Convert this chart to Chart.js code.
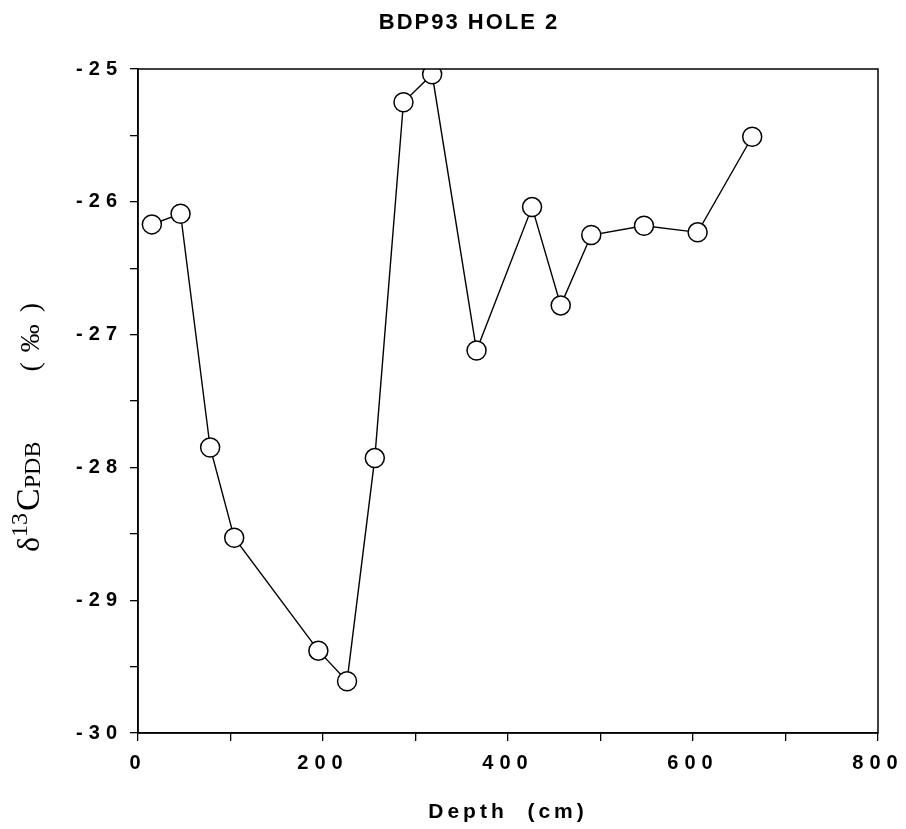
<!DOCTYPE html>
<html>
<head>
<meta charset="utf-8">
<script src="https://cdn.jsdelivr.net/npm/chart.js@4"></script>
<style>
  html, body { margin: 0; padding: 0; background: #fff; }
  #wrap { width: 906px; height: 829px; }
</style>
</head>
<body>
<div id="wrap"><canvas id="c" width="906" height="829"></canvas></div>
<script>
const chartTitle = 'BDP93 HOLE 2';
const xAxisTitle = 'Depth  (cm)';
const depthCm = [15, 46, 78, 104, 195, 226, 256, 287, 318, 366, 426, 457, 490, 547, 605, 664];
const d13C = [-26.17, -26.09, -27.85, -28.53, -29.38, -29.61, -27.93, -25.25, -25.04, -27.12, -26.04, -26.78, -26.25, -26.18, -26.23, -25.51];
const xLabelTicks = [0, 200, 400, 600, 800];
const yLabelTicks = [-30, -29, -28, -27, -26, -25];

const points = depthCm.map((d, i) => ({ x: d, y: d13C[i] }));

const boldFont = 'Liberation Sans, Arial, sans-serif';

const withSpacing = (fn, sp, ctxGetter) => function (...args) {
  const ctx = ctxGetter();
  const prev = ctx.letterSpacing;
  ctx.letterSpacing = sp;
  const r = fn.apply(this, args);
  ctx.letterSpacing = prev;
  return r;
};

const spacingPlugin = {
  id: 'spacing',
  afterLayout(chart) {
    if (chart.titleBlock && !chart.titleBlock._sp) {
      chart.titleBlock.draw = withSpacing(chart.titleBlock.draw, '2px', () => chart.ctx);
      chart.titleBlock._sp = true;
    }
    const xs = chart.scales.x;
    if (xs && !xs._sp) {
      xs.drawTitle = withSpacing(xs.drawTitle, '4px', () => chart.ctx);
      xs._sp = true;
    }
  },
  beforeDraw(chart) { chart.ctx.letterSpacing = '6px'; }
};

const framePlugin = {
  id: 'frame',
  afterDraw(chart) {
    const { ctx, chartArea: a } = chart;
    ctx.save();
    ctx.strokeStyle = '#000';
    ctx.lineWidth = 1.5;
    ctx.strokeRect(a.left, a.top, a.right - a.left, a.bottom - a.top);
    ctx.restore();
  }
};

const yTitlePlugin = {
  id: 'ytitle',
  afterDraw(chart) {
    const { ctx, chartArea: a } = chart;
    ctx.save();
    ctx.letterSpacing = '0px';
    ctx.fillStyle = '#000';
    ctx.textBaseline = 'alphabetic';
    ctx.textAlign = 'left';
    const serif = 'Liberation Serif, Times New Roman, serif';
    ctx.translate(39, a.top + 483);
    ctx.rotate(-Math.PI / 2);
    let x = 0;
    const part = (txt, size, dy) => {
      ctx.font = size + 'px ' + serif;
      ctx.fillText(txt, x, dy);
      x += ctx.measureText(txt).width;
    };
    part('\u03B4', 32, 0);
    part('13', 24, -12);
    x += 2;
    part('C', 34, 0);
    part('PDB', 24, 1);
    x += 70;
    part('(', 28, 0);
    x += 10;
    part('\u2030', 28, 0);
    x += 12;
    part(')', 28, 0);
    ctx.restore();
  }
};

new Chart(document.getElementById('c'), {
  type: 'line',
  data: {
    datasets: [{
      data: points,
      borderColor: '#000',
      borderWidth: 1.4,
      pointRadius: 9.5,
      pointHoverRadius: 9.5,
      pointBackgroundColor: '#fff',
      pointBorderColor: '#000',
      pointBorderWidth: 1.5,
      tension: 0,
      fill: false
    }]
  },
  options: {
    responsive: false,
    animation: false,
    events: [],
    layout: { padding: { left: 60, right: 28, top: 0, bottom: 0 } },
    plugins: {
      legend: { display: false },
      tooltip: { enabled: false },
      title: {
        display: true,
        text: chartTitle,
        color: '#000',
        font: { family: boldFont, size: 22, weight: 'bold' },
        padding: { top: 10, bottom: 32.6 }
      }
    },
    scales: {
      x: {
        type: 'linear',
        min: 0, max: 800,
        afterFit(s) { s.height = 96; },
        ticks: {
          stepSize: 100,
          autoSkip: false,
          maxRotation: 0,
          padding: 10,
          color: '#000',
          font: { family: boldFont, size: 20, weight: 'bold' },
          callback: v => xLabelTicks.includes(v) ? String(v) : ''
        },
        grid: { drawOnChartArea: false, drawTicks: true, tickLength: 8, color: '#000', lineWidth: 1.3 },
        border: { display: true, color: '#000', width: 1.5 },
        title: {
          display: true,
          text: xAxisTitle,
          color: '#000',
          font: { family: boldFont, size: 21, weight: 'bold' },
          padding: { top: 0, bottom: 4 }
        }
      },
      y: {
        type: 'linear',
        min: -30, max: -25,
        afterFit(s) { s.width = 78; },
        ticks: {
          stepSize: 0.5,
          autoSkip: false,
          padding: 7,
          color: '#000',
          font: { family: boldFont, size: 20, weight: 'bold' },
          callback: v => yLabelTicks.includes(v) ? String(v) : ''
        },
        grid: { drawOnChartArea: false, drawTicks: true, tickLength: 8, color: '#000', lineWidth: 1.3 },
        border: { display: true, color: '#000', width: 1.5 }
      }
    }
  },
  plugins: [spacingPlugin, framePlugin, yTitlePlugin]
});
</script>
</body>
</html>
